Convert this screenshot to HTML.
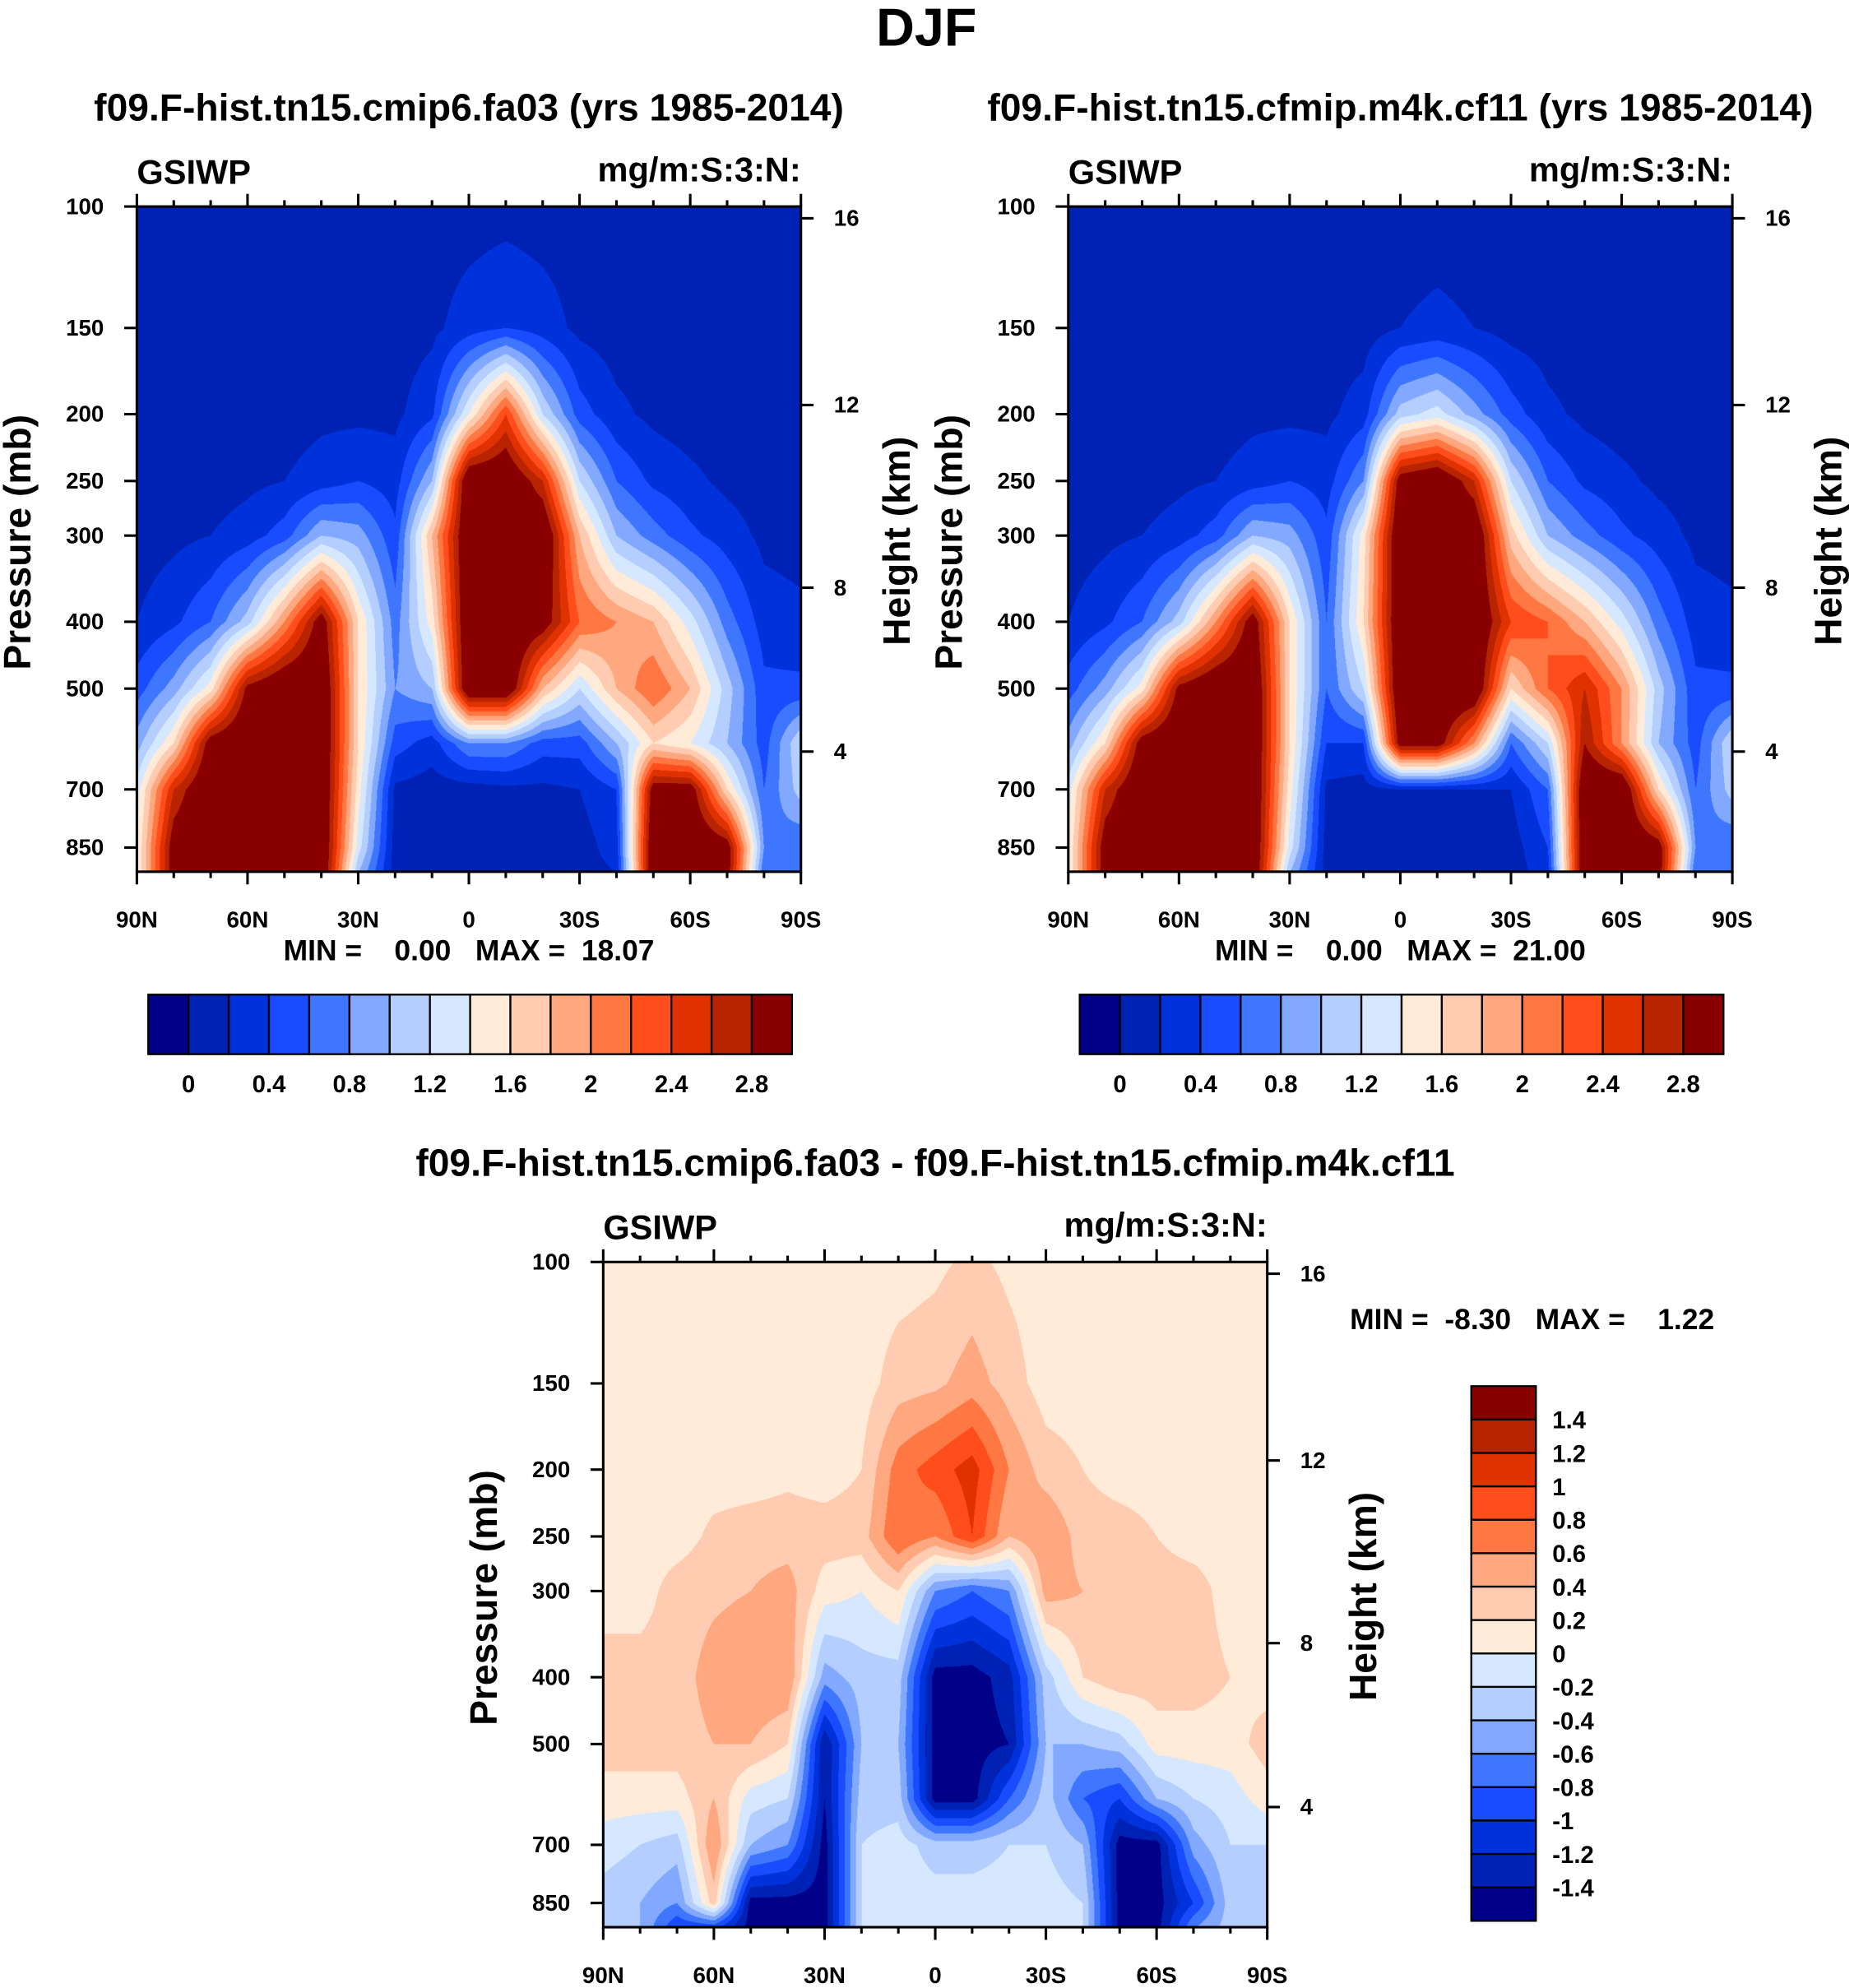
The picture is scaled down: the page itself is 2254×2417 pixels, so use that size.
<!DOCTYPE html>
<html><head><meta charset="utf-8"><title>DJF GSIWP</title>
<style>
html,body{margin:0;padding:0;background:#fff;width:2254px;height:2417px;overflow:hidden}
#root{position:absolute;left:0;top:0;width:1463px;height:1569px;transform-origin:0 0;transform:scale(1.54067,1.54047)}
canvas{position:absolute}
svg{position:absolute;left:0;top:0}
text{font-family:"Liberation Sans",Arial,sans-serif;font-weight:bold;fill:#000;white-space:pre}
</style></head>
<body>
<div id="root">
<canvas id="c1" style="left:108px;top:163px;width:524px;height:525px" width="1048" height="1050"></canvas>
<canvas id="c2" style="left:843px;top:163px;width:524px;height:525px" width="1048" height="1050"></canvas>
<canvas id="c3" style="left:476px;top:996px;width:524px;height:525px" width="1048" height="1050"></canvas>
<svg id="ov" width="1463" height="1569" viewBox="0 0 1463 1569"></svg>
</div>
<script>
// ---- data ----
const lats = ['90N','80N','70N','60N','50N','40N','30N','20N','10N','0','10S','20S','30S','40S','50S','60S','70S','80S','90S'];
const levels = [100,150,200,250,300,400,500,600,700,850,925];
const latTickLabels = ['90N','60N','30N','0','30S','60S','90S'];
const pTickLabels = [100,150,200,250,300,400,500,700,850];
const hTickLabels = [16,12,8,4];
const hTickP = [104,194,357,617];
const absLevelLabels = ['0','0.4','0.8','1.2','1.6','2','2.4','2.8'];
const absLevels = [0,0.2,0.4,0.6,0.8,1.0,1.2,1.4,1.6,1.8,2.0,2.2,2.4,2.6,2.8];
const diffLevels = [-1.4,-1.2,-1.0,-0.8,-0.6,-0.4,-0.2,0,0.2,0.4,0.6,0.8,1.0,1.2,1.4];
const diffLevelLabels = ['1.4','1.2','1','0.8','0.6','0.4','0.2','0','-0.2','-0.4','-0.6','-0.8','-1','-1.2','-1.4'];
const palette = ['#000088','#0022b4','#0032dc','#1a4cff','#3f76ff','#82a9ff','#b4ceff','#d6e8ff','#ffebd7','#ffcbb1','#ffa77e','#ff7843','#ff4e1b','#e03200','#b82400','#8a0000'];
const field1 = [
[0.1,0.1,0.1,0.1,0.1,0.2,0.5,0.9,1.3,1.4,1.4],
[0.1,0.1,0.1,0.1,0.15,0.35,0.9,1.6,2.6,3.0,3.0],
[0.1,0.1,0.1,0.1,0.2,0.6,1.5,3.0,3.2,3.2,3.2],
[0.1,0.1,0.1,0.15,0.3,1.1,2.9,3.2,3.2,3.2,3.2],
[0.1,0.1,0.1,0.2,0.5,2.0,3.2,3.2,3.2,3.2,3.2],
[0.1,0.1,0.15,0.3,1.0,3.0,3.2,3.2,3.2,3.2,3.2],
[0.1,0.1,0.15,0.4,0.9,1.6,1.6,1.6,1.5,1.3,1.0],
[0.1,0.1,0.15,0.3,0.45,0.7,0.8,0.5,0.15,0.1,0.1],
[0.1,0.15,0.35,1.0,1.8,1.5,1.0,0.3,0.1,0.1,0.1],
[0.1,0.3,1.4,3.2,3.2,3.2,3.2,0.8,0.1,0.1,0.1],
[0.12,0.4,2.4,3.2,3.2,3.2,3.2,0.8,0.15,0.1,0.1],
[0.1,0.3,1.2,2.6,3.2,3.0,1.8,0.5,0.15,0.1,0.1],
[0.1,0.15,0.5,1.2,1.8,2.2,1.2,0.5,0.2,0.1,0.1],
[0.1,0.1,0.25,0.6,1.0,2.0,1.8,1.0,0.4,0.3,0.2],
[0.1,0.1,0.15,0.35,0.7,1.8,2.2,1.6,3.0,3.2,3.2],
[0.1,0.1,0.1,0.25,0.45,1.3,1.8,1.4,3.0,3.2,3.2],
[0.1,0.1,0.1,0.15,0.3,0.7,1.1,1.0,1.6,3.0,3.0],
[0.1,0.1,0.1,0.1,0.15,0.3,0.45,0.5,0.6,0.8,0.6],
[0.1,0.1,0.1,0.1,0.12,0.25,0.45,1.2,1.1,0.6,0.6]];
const field2 = [
[0.1,0.1,0.1,0.1,0.1,0.2,0.5,0.9,1.3,1.4,1.4],
[0.1,0.1,0.1,0.1,0.15,0.35,0.9,1.6,2.6,3.0,3.0],
[0.1,0.1,0.1,0.1,0.2,0.6,1.5,3.0,3.2,3.2,3.2],
[0.1,0.1,0.1,0.15,0.3,1.1,2.9,3.2,3.2,3.2,3.2],
[0.1,0.1,0.1,0.2,0.5,2.0,3.2,3.2,3.2,3.2,3.2],
[0.1,0.1,0.15,0.3,1.0,3.0,3.2,3.2,3.2,3.2,3.2],
[0.1,0.1,0.15,0.4,0.9,1.6,1.6,1.6,1.5,1.3,1.0],
[0.1,0.1,0.15,0.3,0.45,0.6,0.6,0.4,0.15,0.1,0.1],
[0.1,0.1,0.3,0.8,1.5,1.6,1.2,0.4,0.1,0.1,0.1],
[0.1,0.2,1.1,3.0,3.2,3.2,3.2,3.0,0.2,0.1,0.1],
[0.1,0.25,1.3,3.2,3.2,3.2,3.2,3.0,0.2,0.1,0.1],
[0.1,0.2,0.9,2.6,3.2,3.2,3.2,2.0,0.2,0.1,0.1],
[0.1,0.12,0.5,1.2,1.7,2.4,1.6,0.6,0.2,0.1,0.1],
[0.1,0.1,0.25,0.6,1.0,2.2,2.2,1.2,0.6,0.4,0.3],
[0.1,0.1,0.15,0.35,0.7,1.8,2.6,2.8,3.2,3.2,3.2],
[0.1,0.1,0.1,0.25,0.45,1.3,2.0,2.0,3.2,3.2,3.2],
[0.1,0.1,0.1,0.15,0.3,0.7,1.1,1.0,1.6,3.0,3.0],
[0.1,0.1,0.1,0.1,0.15,0.3,0.45,0.5,0.6,0.8,0.6],
[0.1,0.1,0.1,0.1,0.12,0.25,0.45,1.2,1.1,0.6,0.6]];
const field3 = [
[0.1,0.1,0.1,0.1,0.1,0.3,0.3,0.1,-0.1,-0.3,-0.3],
[0.1,0.1,0.1,0.1,0.1,0.3,0.3,0.1,-0.2,-0.4,-0.4],
[0.1,0.1,0.1,0.1,0.3,0.3,0.3,0.1,-0.3,-0.6,-1.0],
[0.1,0.1,0.1,0.25,0.35,0.5,0.4,0.4,0.6,0.3,-1.0],
[0.1,0.1,0.1,0.3,0.4,0.6,0.4,-0.1,-0.4,-1.5,-1.5],
[0.1,0.1,0.15,0.3,0.5,0.6,0.2,-0.2,-0.6,-1.5,-1.5],
[0.1,0.1,0.1,0.3,0.1,-0.5,-1.4,-1.4,-1.5,-1.5,-1.5],
[0.1,0.1,0.2,0.3,0.0,-0.3,-0.4,-0.3,-0.2,-0.2,-0.2],
[0.1,0.3,0.7,0.8,0.2,-0.3,-0.4,-0.3,-0.1,-0.1,-0.1],
[0.15,0.35,0.9,0.6,-0.6,-1.5,-1.5,-1.5,-0.3,-0.1,-0.1],
[0.25,0.5,1.1,1.0,-0.8,-1.5,-1.5,-1.5,-0.3,-0.1,-0.1],
[0.15,0.3,0.6,0.4,-0.6,-1.3,-1.4,-0.8,-0.2,-0.1,-0.1],
[0.1,0.1,0.3,0.6,0.5,-0.3,-0.4,-0.3,-0.2,-0.1,-0.1],
[0.1,0.1,0.2,0.3,0.4,0.2,-0.4,-0.8,-0.4,-0.2,-0.2],
[0.1,0.1,0.1,0.3,0.35,0.35,-0.3,-1.0,-1.5,-1.5,-1.5],
[0.1,0.1,0.1,0.2,0.3,0.3,0.1,-0.4,-1.5,-1.5,-1.5],
[0.1,0.1,0.1,0.1,0.3,0.3,0.1,-0.2,-0.5,-1.0,-0.6],
[0.1,0.1,0.1,0.1,0.1,0.2,0.1,-0.1,-0.2,-0.3,-0.3],
[0.1,0.1,0.1,0.1,0.1,0.1,0.3,0.1,-0.2,-0.2,-0.2]];

// ---- axes helpers ----
const PW=524, PH=525, K=236.4;
function yOfP(p){return K*Math.log(p/100);}
function xOfLat(i){return i*PW/(lats.length-1);}
function hexRGB(h){return [parseInt(h.slice(1,3),16),parseInt(h.slice(3,5),16),parseInt(h.slice(5,7),16)];}

function drawField(id,field,lv){
  const c=document.getElementById(id),ctx=c.getContext('2d');
  const W=c.width,H=c.height,img=ctx.createImageData(W,H);
  const ly=levels.map(yOfP);
  const cache=palette.map(hexRGB);
  for(let py=0;py<H;py++){
    const y=(py+0.5)/2;
    let j=0;while(j<ly.length-2&&y>ly[j+1])j++;
    let ty=(y-ly[j])/(ly[j+1]-ly[j]);ty=Math.max(0,Math.min(1,ty));
    for(let px=0;px<W;px++){
      const x=(px+0.5)/2;
      const fi=x/(PW/(lats.length-1));
      let i=Math.min(lats.length-2,Math.floor(fi));const tx=fi-i;
      const v=(field[i][j]*(1-tx)+field[i+1][j]*tx)*(1-ty)+(field[i][j+1]*(1-tx)+field[i+1][j+1]*tx)*ty;
      let k=0;while(k<lv.length&&v>=lv[k])k++;
      const col=cache[k],o=(py*W+px)*4;
      img.data[o]=col[0];img.data[o+1]=col[1];img.data[o+2]=col[2];img.data[o+3]=255;
    }
  }
  ctx.putImageData(img,0,0);
}
drawField('c1',field1,absLevels);
drawField('c2',field2,absLevels);
drawField('c3',field3,diffLevels);

// ---- svg annotations ----
const NS='http://www.w3.org/2000/svg',svg=document.getElementById('ov');
function el(tag,attrs,parent){const e=document.createElementNS(NS,tag);for(const k in attrs)e.setAttribute(k,attrs[k]);(parent||svg).appendChild(e);return e;}
function txt(s,x,y,size,anchor,name,rot){const t=el('text',{x:x,y:y,'font-size':size,'text-anchor':anchor||'middle'});
  if(rot)t.setAttribute('transform','rotate(-90 '+x+' '+y+')');
  
  
  t.textContent=s;return t;}

txt('DJF',731,36,42,'middle','figure-title');

function panel(ox,oy,ttl,name){
  const g=el('g',{});
  
  
  txt(ttl,ox+262,oy-68,30,'middle',name+'-title');
  txt('GSIWP',ox,oy-18,27,'start',name+'-variable-label');
  txt('mg/m:S:3:N:',ox+PW,oy-20,27,'end',name+'-units-label');
  const fr=el('rect',{x:ox,y:oy,width:PW,height:PH,fill:'none',stroke:'#000','stroke-width':2},g);
  
  
  for(let i=0;i<lats.length;i++){
    const x=ox+xOfLat(i),major=i%3===0,L=major?10:5;
    el('line',{x1:x,y1:oy,x2:x,y2:oy-L,stroke:'#000','stroke-width':2},g);
    el('line',{x1:x,y1:oy+PH,x2:x,y2:oy+PH+L,stroke:'#000','stroke-width':2},g);
  }
  latTickLabels.forEach((s,k)=>txt(s,ox+xOfLat(k*3),oy+PH+44,18,'middle',name+'-x-tick-label'));
  pTickLabels.forEach(p=>{const y=oy+yOfP(p);
    el('line',{x1:ox,y1:y,x2:ox-10,y2:y,stroke:'#000','stroke-width':2},g);
    txt(String(p),ox-26,y+6,18,'end',name+'-y-tick-label');});
  hTickLabels.forEach((h,k)=>{const y=oy+yOfP(hTickP[k]);
    el('line',{x1:ox+PW,y1:y,x2:ox+PW+10,y2:y,stroke:'#000','stroke-width':2},g);
    txt(String(h),ox+PW+26,y+6,18,'start',name+'-height-tick-label');});
  txt('Pressure (mb)',ox-84,oy+265,30,'middle',name+'-y-axis-title',true);
  txt('Height (km)',ox+PW+86,oy+264,30,'middle',name+'-height-axis-title',true);
  return g;
}
panel(108,163,'f09.F-hist.tn15.cmip6.fa03 (yrs 1985-2014)','panel-cmip6');
panel(843,163,'f09.F-hist.tn15.cfmip.m4k.cf11 (yrs 1985-2014)','panel-m4k');
panel(476,996,'f09.F-hist.tn15.cmip6.fa03 - f09.F-hist.tn15.cfmip.m4k.cf11','panel-diff');

txt('MIN =    0.00   MAX =  18.07',370,758,23,'middle','panel-cmip6-minmax');
txt('MIN =    0.00   MAX =  21.00',1105,758,23,'middle','panel-m4k-minmax');
txt('MIN =  -8.30   MAX =    1.22',1209,1049,23,'middle','panel-diff-minmax');

function hbar(x0,y0,name){
  const w=508/palette.length;
  palette.forEach((c,k)=>{const r=el('rect',{x:x0+k*w,y:y0,width:w,height:47,fill:c,stroke:'#000','stroke-width':1.5});
    
    });
  absLevelLabels.forEach((s,k)=>txt(s,x0+(1+2*k)*w,y0+77,19,'middle',name+'-label'));
}
hbar(117,785,'colorbar-cmip6');
hbar(852,785,'colorbar-m4k');
(function(){
  const x0=1161,y0=1094,h=422/palette.length;
  palette.slice().reverse().forEach((c,k)=>{const r=el('rect',{x:x0,y:y0+k*h,width:51,height:h,fill:c,stroke:'#000','stroke-width':1.5});
    
    });
  diffLevelLabels.forEach((s,k)=>txt(s,x0+64,y0+(k+1)*h+7,19,'start','colorbar-diff-label'));
})();
</script>
</body></html>
